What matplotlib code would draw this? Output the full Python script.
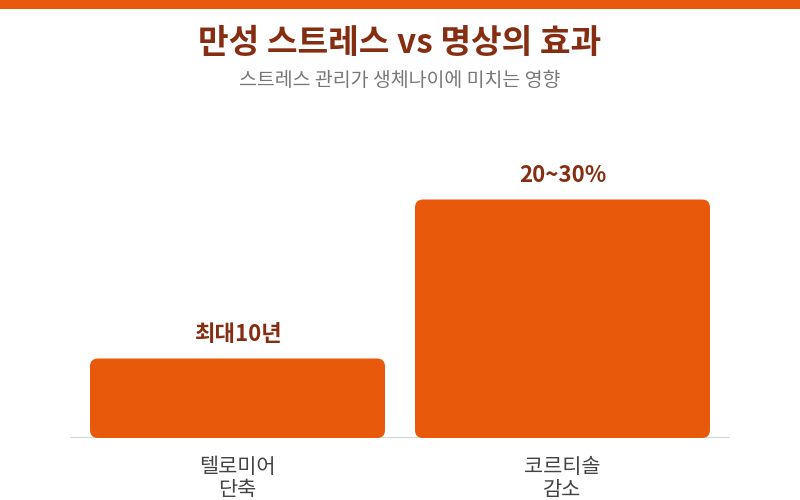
import matplotlib.pyplot as plt
from matplotlib.patches import FancyBboxPatch, Rectangle

plt.rcParams['font.family'] = ['Noto Sans CJK KR', 'DejaVu Sans']

categories = ['텔로미어\n단축', '코르티솔\n감소']
values = [10, 30]
value_labels = ['최대10년', '20~30%']

title = '만성 스트레스 vs 명상의 효과'
subtitle = '스트레스 관리가 생체나이에 미치는 영향'

orange = '#E8590C'
brown = '#862E12'

fig = plt.figure(figsize=(8, 5), dpi=100)
fig.patch.set_facecolor('white')

# top stripe
fig.add_artist(Rectangle((0, 1 - 9 / 500), 1, 9 / 500, transform=fig.transFigure,
                         color=orange, lw=0))

fig.text(0.5, 1 - 43 / 500, title, ha='center', va='center', fontsize=24,
         fontweight='bold', color=brown)
fig.text(0.5, 1 - 80 / 500, subtitle, ha='center', va='center', fontsize=14,
         color='#777777')

ax = fig.add_axes([70 / 800, 62 / 500, 660 / 800, 318 / 500])
half = 660 / 325 / 2
ax.set_xlim(0.5 - half, 0.5 + half)
ax.set_ylim(0, 40)

# rounded corners: radius in pixels converted to data units
radius_px = 8
x_per_px = 1.0 / 325
y_per_px = 40.0 / 318
width = 295 / 325

for i, (v, lab) in enumerate(zip(values, value_labels)):
    box = FancyBboxPatch((i - width / 2, 0), width, v,
                         boxstyle='round,pad=0,rounding_size=%f' % (radius_px * x_per_px),
                         mutation_aspect=y_per_px / x_per_px,
                         facecolor=orange, edgecolor='none')
    ax.add_patch(box)
    ax.annotate(lab, (i, v), xytext=(0, 17), textcoords='offset points',
                ha='center', va='center', fontsize=16, fontweight='bold', color=brown)

ax.axhline(0, color='#d6d6d6', lw=1.5, zorder=0)

ax.set_xticks(range(len(categories)))
ax.set_xticklabels(categories, fontsize=15, color='#444444', linespacing=1.05)
ax.tick_params(axis='x', length=0, pad=13)
ax.set_yticks([])
for s in ax.spines.values():
    s.set_visible(False)

fig.savefig('out.png', dpi=100)
